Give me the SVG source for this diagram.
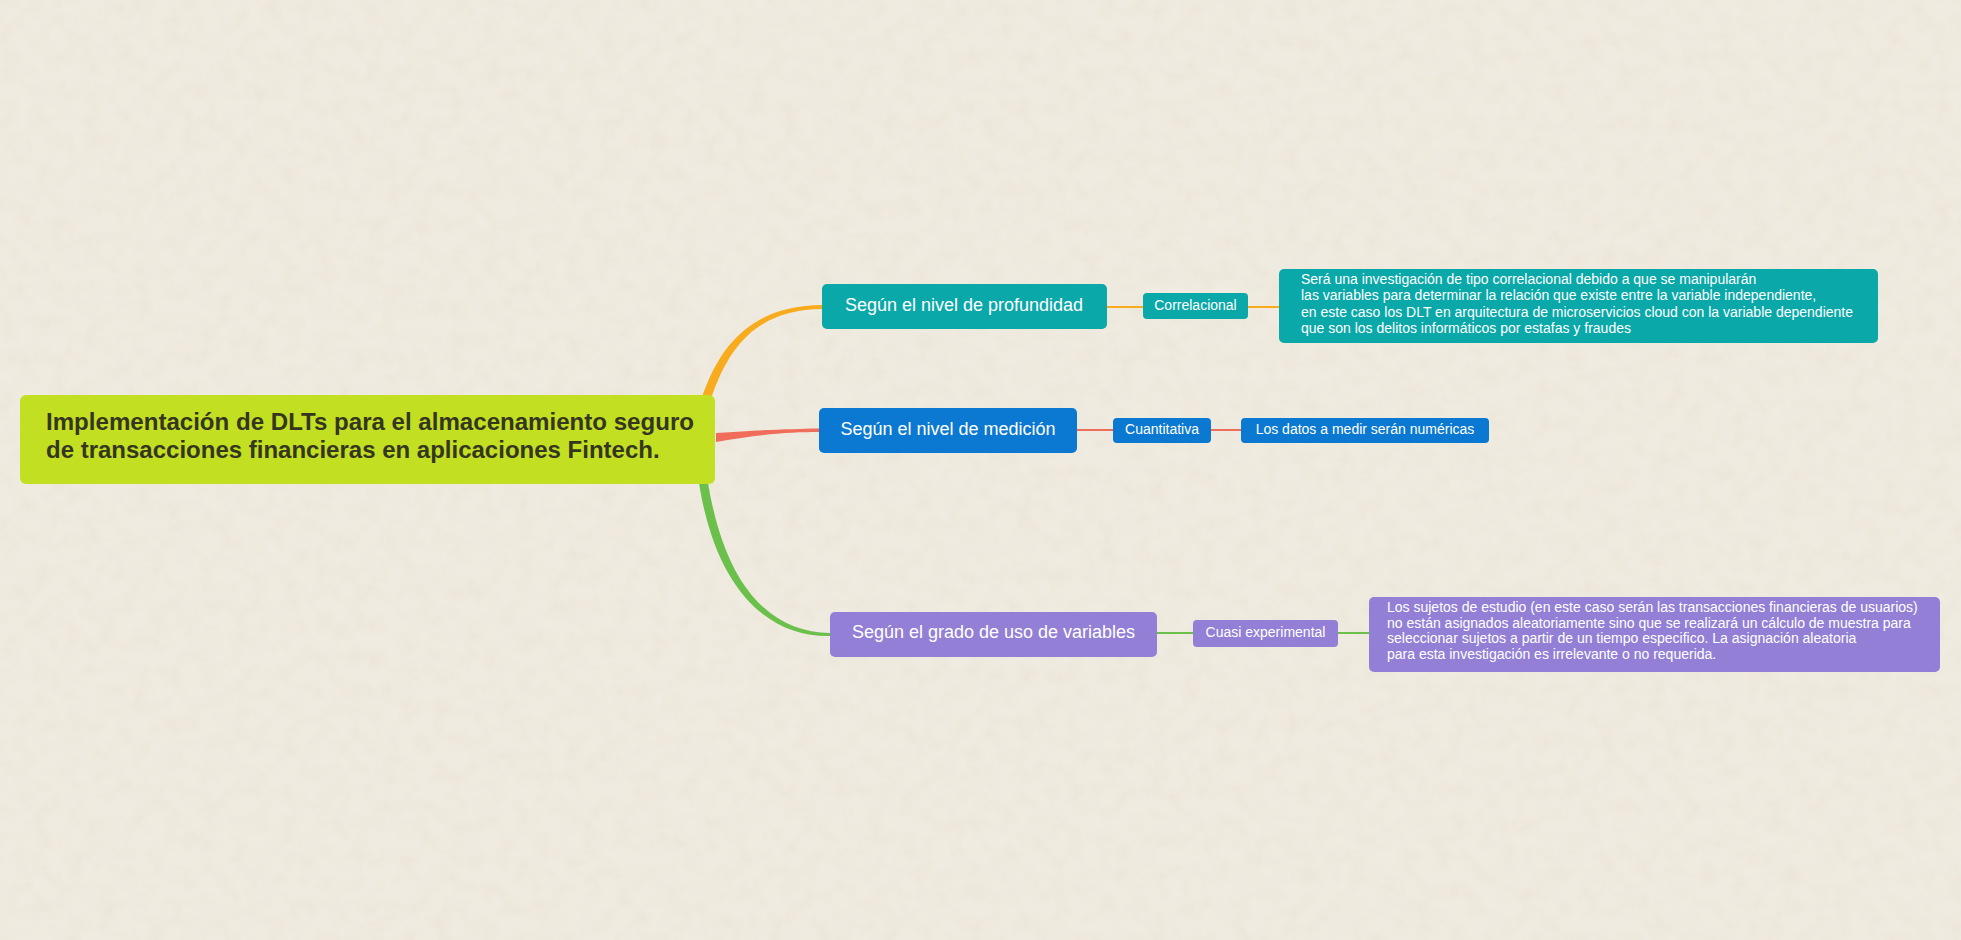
<svg xmlns="http://www.w3.org/2000/svg" width="1961" height="940" viewBox="0 0 1961 940">
<defs>
<filter id="paper" x="0" y="0" width="100%" height="100%">
<feTurbulence type="fractalNoise" baseFrequency="0.06" numOctaves="4" seed="7"/>
<feColorMatrix type="matrix" values="0 0 0 0 0.66  0 0 0 0 0.6  0 0 0 0 0.48  0.28 0 0 0 -0.1"/>
</filter>
<style>
.t{font-family:"Liberation Sans",Arial,Helvetica,sans-serif;fill:#ffffff}
.root{font-family:"Liberation Sans",Arial,Helvetica,sans-serif;font-weight:bold;font-size:24px;fill:#35361f}
.m{font-size:18px;text-anchor:middle}
.s{font-size:14px;text-anchor:middle}
.l{font-size:14px}
.teal{fill:#0aa8a8}
.blue{fill:#0b79d1}
.purple{fill:#937fd5}
.thin{fill:none;stroke-width:2}
</style>
</defs>
<rect width="1961" height="940" fill="#f0ebe0"/>
<rect width="1961" height="940" filter="url(#paper)"/>

<g id="connectors">
<path d="M701 400 C724 330 765 306 822 305 L822 309 C768 310 732 333 710 402 Z" fill="#f7ab1d"/>
<path d="M716 433 C760 430 790 429 819 428.5 L819 432 C790 432 760 434 716 442 Z" fill="#f06d5b"/>
<path d="M699 483 C716 590 768 637 830 636 L830 633 C772 632 726 590 708 483 Z" fill="#6bbf4b"/>
<path class="thin" d="M1107 307 H1143 M1248 307 H1279" stroke="#f7ab1d"/>
<path class="thin" d="M1077 430 H1113 M1211 430 H1241" stroke="#f06d5b"/>
<path class="thin" d="M1157 633 H1193 M1338 633 H1369" stroke="#6bbf4b"/>
</g>

<g id="root">
<rect x="20" y="395" width="695" height="89" rx="6" fill="#c2df22"/>
<text class="root" x="46" y="430" textLength="648" lengthAdjust="spacingAndGlyphs">Implementación de DLTs para el almacenamiento seguro</text>
<text class="root" x="46" y="457.5">de transacciones financieras en aplicaciones Fintech.</text>
</g>

<g id="profundidad">
<rect class="teal" x="822" y="284" width="285" height="45" rx="5"/>
<text class="t m" x="964" y="310.5">Según el nivel de profundidad</text>
</g>
<g id="correlacional">
<rect class="teal" x="1143" y="293" width="105" height="26" rx="4"/>
<text class="t s" x="1195.5" y="309.5">Correlacional</text>
</g>
<g id="correlacional-desc">
<rect class="teal" x="1279" y="269" width="599" height="74" rx="5"/>
<text class="t l" x="1301" y="284">Será una investigación de tipo correlacional debido a que se manipularán</text>
<text class="t l" x="1301" y="300">las variables para determinar la relación que existe entre la variable independiente,</text>
<text class="t l" x="1301" y="316.5">en este caso los DLT en arquitectura de microservicios cloud con la variable dependiente</text>
<text class="t l" x="1301" y="332.5">que son los delitos informáticos por estafas y fraudes</text>
</g>

<g id="medicion">
<rect class="blue" x="819" y="408" width="258" height="45" rx="5"/>
<text class="t m" x="948" y="434.5">Según el nivel de medición</text>
</g>
<g id="cuantitativa">
<rect class="blue" x="1113" y="418" width="98" height="25" rx="4"/>
<text class="t s" x="1162" y="433.5">Cuantitativa</text>
</g>
<g id="cuantitativa-desc">
<rect class="blue" x="1241" y="418" width="248" height="25" rx="4"/>
<text class="t s" x="1365" y="433.5">Los datos a medir serán numéricas</text>
</g>

<g id="variables">
<rect class="purple" x="830" y="612" width="327" height="45" rx="5"/>
<text class="t m" x="993.5" y="637.5">Según el grado de uso de variables</text>
</g>
<g id="cuasi">
<rect class="purple" x="1193" y="620" width="145" height="27" rx="4"/>
<text class="t s" x="1265.5" y="636.5">Cuasi experimental</text>
</g>
<g id="cuasi-desc">
<rect class="purple" x="1369" y="597" width="571" height="75" rx="5"/>
<text class="t l" x="1387" y="611.5">Los sujetos de estudio (en este caso serán las transacciones financieras de usuarios)</text>
<text class="t l" x="1387" y="627.5">no están asignados aleatoriamente sino que se realizará un cálculo de muestra para</text>
<text class="t l" x="1387" y="643">seleccionar sujetos a partir de un tiempo especifico. La asignación aleatoria</text>
<text class="t l" x="1387" y="659">para esta investigación es irrelevante o no requerida.</text>
</g>
</svg>
